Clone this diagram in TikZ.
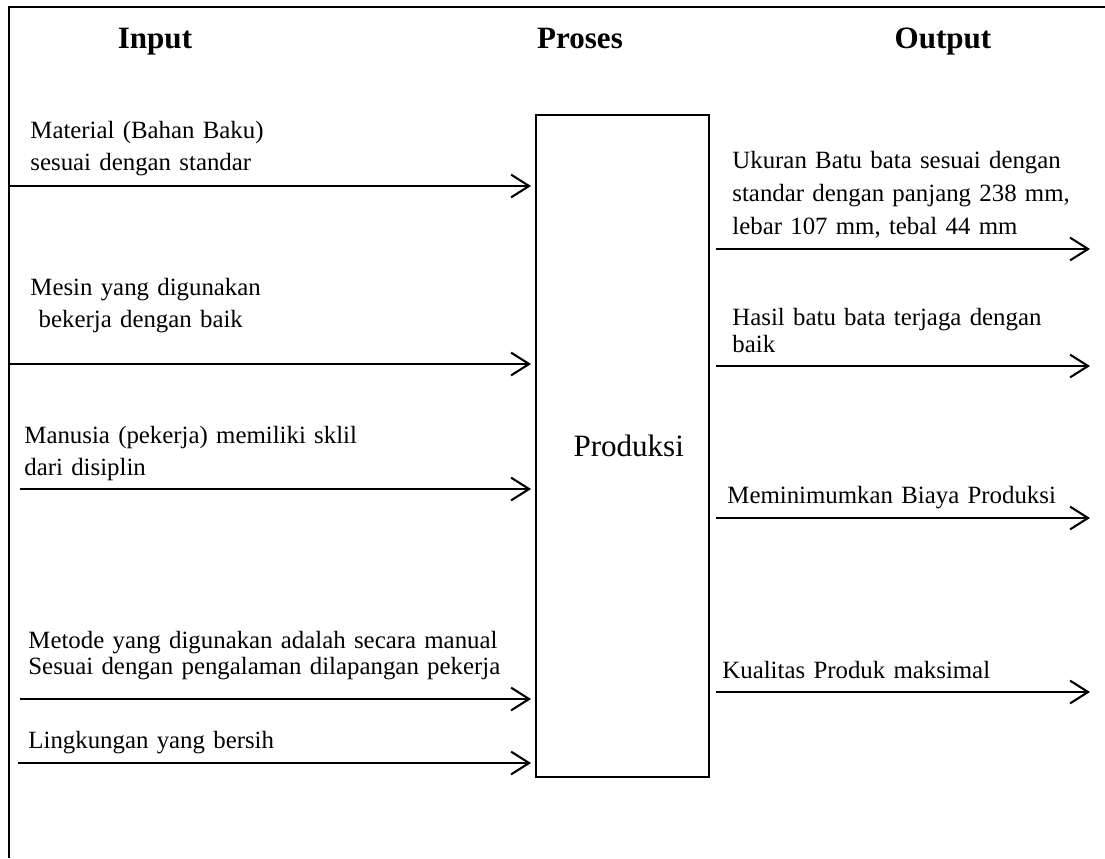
\documentclass[tikz,border=0pt]{standalone}
\usepackage{fontspec}
\setmainfont{Liberation Serif}
\usepackage{tikz}
\usetikzlibrary{arrows.meta,calc,positioning}

\begin{document}
\begin{tikzpicture}[x=0.483pt,y=-0.483pt,
  txt/.style={anchor=base west,inner sep=0pt,text width=380pt,align=left,font=\fontsize{12}{15.5}\selectfont},
  head/.style={anchor=base,inner sep=0pt,font=\fontsize{15}{18}\selectfont\bfseries},
  flow/.style={line width=1pt,-{Straight Barb[length=8.7pt,width=11pt,line width=1pt]}}]

\useasboundingbox (0,0) rectangle (1105,858);
\draw[line width=0.8pt] (9,858) -- (9,7) -- (1105,7);

\node[head] (input) at (155,48) {Input};
\node[head] (proses) at (580,48) {Proses};
\node[head] (output) at (943,48) {Output};

\node[draw,line width=0.8pt,minimum width=173pt*0.483,minimum height=662pt*0.483,font=\fontsize{15}{18}\selectfont] (produksi) at (622.5,446) {\hspace*{6pt}Produksi};

% input
\node[txt] (material) at (30,138) {Material (Bahan Baku)\\sesuai dengan standar};
\node[txt] (mesin) at (30,295) {Mesin yang digunakan\\\ bekerja dengan baik};
\node[txt] (manusia) at (24,443) {Manusia (pekerja) memiliki sklil\\dari disiplin};
\node[txt,font=\fontsize{12}{13}\selectfont] (metode) at (28,648) {Metode yang digunakan adalah secara manual\\Sesuai dengan pengalaman dilapangan pekerja};
\node[txt] (lingkungan) at (28,748) {Lingkungan yang bersih};

\coordinate (in1) at (9,186);
\coordinate (in2) at (9,364);
\coordinate (in3) at (20,489);
\coordinate (in4) at (20,699);
\coordinate (in5) at (18,763);
\foreach \i in {1,...,5}
  \draw[flow,shorten >=2pt] (in\i) -- (in\i -| produksi.west);

% output
\node[txt,font=\fontsize{12}{16}\selectfont] (ukuran) at (732,168) {Ukuran Batu bata sesuai dengan\\standar dengan panjang 238 mm,\\lebar 107 mm, tebal 44 mm};
\node[txt,font=\fontsize{12}{13.5}\selectfont] (hasil) at (732,325) {Hasil batu bata terjaga dengan\\baik};
\node[txt] (biaya) at (727,503) {Meminimumkan Biaya Produksi};
\node[txt] (kualitas) at (722,678) {Kualitas Produk maksimal};

\coordinate (out1) at (1090,249);
\coordinate (out2) at (1090,366);
\coordinate (out3) at (1090,518);
\coordinate (out4) at (1090,692);
\foreach \i in {1,...,4}
  \draw[flow,shorten <=3pt] (produksi.east |- out\i) -- (out\i);

\end{tikzpicture}
\end{document}
